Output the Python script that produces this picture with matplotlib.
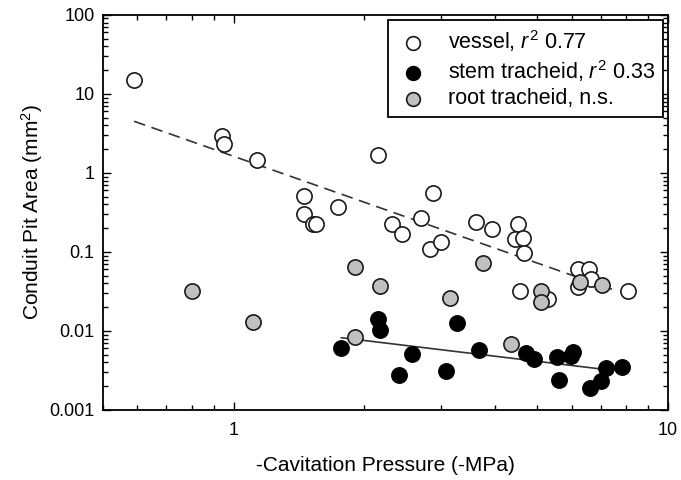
import matplotlib
matplotlib.use("Agg")
import matplotlib.pyplot as plt
from matplotlib.ticker import LogLocator, FuncFormatter, NullFormatter

plt.rcParams['font.family'] = ['Liberation Sans', 'DejaVu Sans']
plt.rcParams['mathtext.fontset'] = 'custom'
plt.rcParams['mathtext.rm'] = 'Liberation Sans'
plt.rcParams['mathtext.it'] = 'Liberation Sans:italic'

# ---- data ----
vessel_x = [0.59, 0.94, 0.95, 1.13, 1.45, 1.74, 2.15, 1.45, 1.52, 1.55,
            2.32, 2.44, 2.70, 2.83, 3.00, 2.87, 3.62, 3.94, 4.52, 4.45,
            4.64, 4.66, 4.56, 5.28, 6.20, 6.56, 6.63, 6.20, 8.10]
vessel_y = [15.0, 2.9, 2.3, 1.45, 0.51, 0.37, 1.7, 0.30, 0.226, 0.226,
            0.225, 0.17, 0.265, 0.108, 0.135, 0.56, 0.24, 0.197, 0.226, 0.146,
            0.152, 0.096, 0.032, 0.025, 0.061, 0.061, 0.045, 0.036, 0.032]

stem_x = [1.77, 2.15, 2.17, 2.40, 2.58, 3.08, 3.27, 3.67, 4.70, 4.91,
          5.56, 5.60, 5.97, 6.05, 6.60, 7.00, 7.20, 7.85]
stem_y = [0.0060, 0.0140, 0.0102, 0.0028, 0.0051, 0.0031, 0.0125, 0.0058, 0.0053, 0.0044,
          0.0047, 0.0024, 0.0048, 0.0054, 0.0019, 0.0023, 0.0034, 0.0035]

root_x = [0.80, 1.11, 1.90, 1.90, 2.17, 3.14, 3.75, 4.34, 5.10, 5.10, 6.27, 7.05]
root_y = [0.032, 0.013, 0.064, 0.0083, 0.0375, 0.026, 0.072, 0.0069, 0.032, 0.023, 0.042, 0.038]

vessel_fit_x = [0.59, 7.5]
vessel_fit_y = [4.5, 0.033]
stem_fit_x = [1.77, 7.0]
stem_fit_y = [0.0082, 0.0033]

labels = [r'vessel, $r^2$ 0.77', r'stem tracheid, $r^2$ 0.33', 'root tracheid, n.s.']

fig = plt.figure(figsize=(6.81, 4.80), dpi=100)
ax = fig.add_axes([0.151, 0.146, 0.830, 0.823])

ax.plot(vessel_fit_x, vessel_fit_y, color='#333333', lw=1.2, ls=(0, (7, 4)), zorder=1)
ax.plot(stem_fit_x, stem_fit_y, color='#333333', lw=1.2, ls='-', zorder=1)

ms = 120
ax.scatter(vessel_x, vessel_y, s=ms, facecolor='white', edgecolor='#1a1a1a', lw=1.2, zorder=3, label=labels[0])
ax.scatter(stem_x, stem_y, s=ms, facecolor='black', edgecolor='black', lw=1.2, zorder=3, label=labels[1])
ax.scatter(root_x, root_y, s=ms, facecolor='#c0c0c0', edgecolor='#1a1a1a', lw=1.2, zorder=4, label=labels[2])

ax.set_xscale('log')
ax.set_yscale('log')
ax.set_xlim(0.5, 10)
ax.set_ylim(0.001, 100)

fmt = FuncFormatter(lambda v, p: '%g' % v)
ax.xaxis.set_major_locator(LogLocator(base=10, numticks=10))
ax.xaxis.set_minor_locator(LogLocator(base=10, subs=range(2, 10), numticks=20))
ax.yaxis.set_major_locator(LogLocator(base=10, numticks=10))
ax.yaxis.set_minor_locator(LogLocator(base=10, subs=range(2, 10), numticks=20))
ax.xaxis.set_major_formatter(fmt)
ax.yaxis.set_major_formatter(fmt)
ax.xaxis.set_minor_formatter(NullFormatter())
ax.yaxis.set_minor_formatter(NullFormatter())

ax.tick_params(which='both', direction='in', top=True, right=True, labelsize=13, width=1.0)
ax.tick_params(which='major', length=6)
ax.tick_params(which='minor', length=3.5)
ax.tick_params(axis='x', pad=9)
ax.tick_params(axis='y', pad=6)
for sp in ax.spines.values():
    sp.set_linewidth(1.3)

ax.set_xlabel('-Cavitation Pressure (-MPa)', fontsize=15, labelpad=12)
ax.set_ylabel('Conduit Pit Area (mm$^2$)', fontsize=15, labelpad=3)

leg = ax.legend(loc='upper right', fontsize=15.5, frameon=True, fancybox=False,
                edgecolor='black', framealpha=1, borderpad=0.35, labelspacing=0.2,
                handlelength=1.6, handletextpad=0.85, borderaxespad=0.25,
                scatterpoints=1, markerscale=0.9)
leg.get_frame().set_linewidth(1.3)

fig.savefig('out.png', dpi=100)
